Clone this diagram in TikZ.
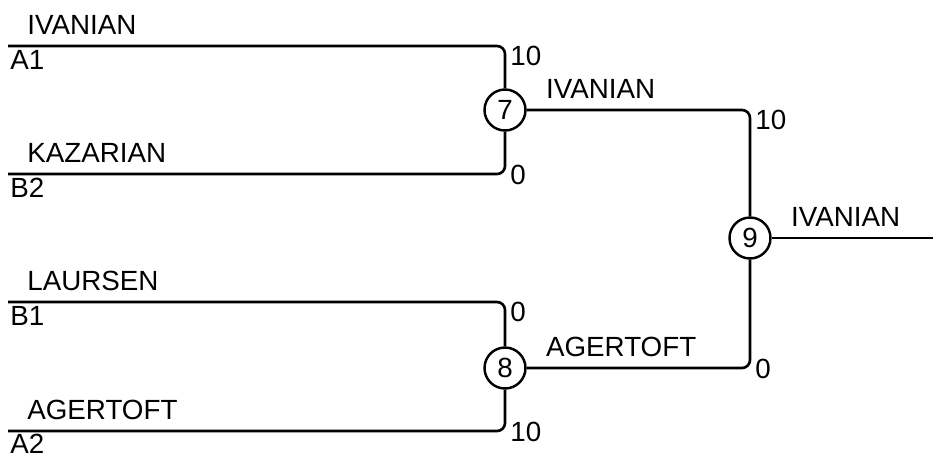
\documentclass[tikz,border=0pt]{standalone}
\usepackage{fontspec}
\setmainfont{Liberation Sans}
\tikzset{
  match/.style={draw,circle,line width=1.4pt,minimum size=0.82cm,inner sep=0pt},
  player/.style={anchor=base west,inner sep=0pt},
  seed/.style={anchor=base west,inner sep=0pt},
  score/.style={anchor=base west,inner sep=0pt},
  bracket/.style={line width=1.5pt,rounded corners=1.6mm}
}
\begin{document}
\begin{tikzpicture}[x=0.02cm,y=-0.02cm,font=\fontsize{15.8}{18}\selectfont]
\useasboundingbox (0,0) rectangle (933,457);
% entry lines
\coordinate (a1) at (8,46);
\coordinate (b2) at (8,174);
\coordinate (b1) at (8,302);
\coordinate (a2) at (8,431);
% matches
\node[match] (m7) at (505,110) {7};
\node[match] (m8) at (505,368) {8};
\node[match] (m9) at (750,238) {9};
\coordinate (win) at (933,238);
\draw[bracket] (a1) -| (m7);
\draw[bracket] (b2) -| (m7);
\draw[bracket] (b1) -| (m8);
\draw[bracket] (a2) -| (m8);
\draw[bracket] (m7) -| (m9);
\draw[bracket] (m8) -| (m9);
\draw[bracket] (m9) -- (win);
% names
\node[player] (n-a1) at ([shift={(19,-12)}]a1) {IVANIAN};
\node[player] (n-b2) at ([shift={(19,-12)}]b2) {KAZARIAN};
\node[player] (n-b1) at ([shift={(19,-12)}]b1) {LAURSEN};
\node[player] (n-a2) at ([shift={(19,-12)}]a2) {AGERTOFT};
\node[player] (n-m7) at ([shift={(19,-12)}]m7.east) {IVANIAN};
\node[player] (n-m8) at ([shift={(19,-12)}]m8.east) {AGERTOFT};
\node[player] (n-m9) at ([shift={(19,-12)}]m9.east) {IVANIAN};
% seeds
\node[seed] (s-a1) at ([shift={(2,23)}]a1) {A1};
\node[seed] (s-b2) at ([shift={(2,23)}]b2) {B2};
\node[seed] (s-b1) at ([shift={(2,23)}]b1) {B1};
\node[seed] (s-a2) at ([shift={(2,22)}]a2) {A2};
% scores
\node[score] (p-a1) at ([shift={(5,19)}]m7 |- a1) {10};
\node[score] (p-b2) at ([shift={(5,10)}]m7 |- b2) {0};
\node[score] (p-b1) at ([shift={(5,19)}]m8 |- b1) {0};
\node[score] (p-a2) at ([shift={(5,10)}]m8 |- a2) {10};
\node[score] (p-m7) at ([shift={(5,19)}]m9 |- m7) {10};
\node[score] (p-m8) at ([shift={(5,10)}]m9 |- m8) {0};
\end{tikzpicture}
\end{document}
